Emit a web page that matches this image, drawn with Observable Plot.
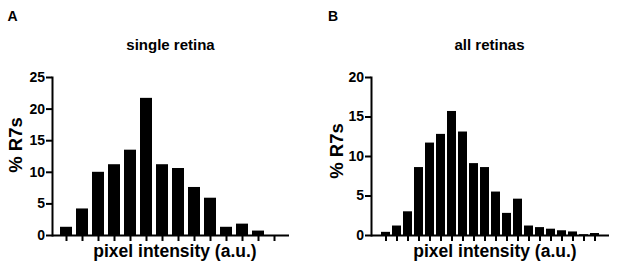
<!DOCTYPE html>
<html><head><meta charset="utf-8">
<script src="https://cdn.jsdelivr.net/npm/d3@7"></script>
<script src="https://cdn.jsdelivr.net/npm/@observablehq/plot@0.6"></script>
<style>
body{margin:0;background:#fff;font-family:Arial,"Liberation Sans",sans-serif;}
#wrap{position:relative;width:617px;height:270px;overflow:hidden;background:#fff}
.panel{position:absolute;top:0}
.lbl{position:absolute;font-weight:bold;color:#000;white-space:nowrap;line-height:1;font-family:Arial,"Liberation Sans",sans-serif}
</style></head><body><div id="wrap"></div>
<script>
// Panel A: single retina
const binsA = [1,2,3,4,5,6,7,8,9,10,11,12,13,14];
const pctA  = [1.3,4.2,10.0,11.2,13.5,21.7,11.2,10.6,7.6,5.9,1.3,1.8,0.7,0];
const yTicksA = [0,5,10,15,20,25];
// Panel B: all retinas
const binsB = [1,2,3,4,5,6,7,8,9,10,11,12,13,14,15,16,17,18,19,20];
const pctB  = [0.4,1.2,3.0,8.6,11.7,12.8,15.7,13.1,9.1,8.6,5.5,2.8,4.6,1.2,1.0,0.8,0.6,0.45,0.1,0.25];
const yTicksB = [0,5,10,15,20];

const titles = ["single retina", "all retinas"];
const letters = ["A", "B"];
const xLabel = "pixel intensity (a.u.)";
const yLabel = "% R7s";

const wrap = document.getElementById("wrap");

function panel(bins, pct, yTicks, cfg) {
  const data = bins.map((b, i) => ({bin: b, pct: pct[i]}));
  const yMax = yTicks[yTicks.length - 1];
  const p = Plot.plot({
    width: cfg.width, height: 270,
    marginLeft: cfg.ml, marginRight: cfg.mr, marginTop: 77, marginBottom: 35,
    style: {fontFamily: "Arial, 'Liberation Sans', sans-serif", fontSize: "14px", fontWeight: "bold", color: "#000", background: "#fff", overflow: "visible"},
    x: {type: "band", domain: bins, paddingInner: cfg.pi, paddingOuter: cfg.pi / 2},
    y: {domain: [0, yMax]},
    marks: [
      Plot.barY(data, {x: "bin", y: "pct", fill: "#000"}),
      Plot.ruleY([0], {strokeWidth: 2}),
      Plot.frame({anchor: "left", strokeWidth: 2}),
      Plot.axisY({ticks: yTicks, tickSize: 6, tickPadding: 1.5, strokeWidth: 2, label: null}),
      Plot.axisX({tickSize: 6, tickFormat: () => "", strokeWidth: 2, label: null})
    ]
  });
  p.classList.add("panel");
  p.style.left = cfg.left + "px";
  wrap.appendChild(p);
}

panel(binsA, pctA, yTicksA, {left: 0, width: 309, ml: 52, mr: 20, pi: 0.24});
panel(binsB, pctB, yTicksB, {left: 309, width: 308, ml: 62, mr: 8, pi: 0.16});

function label(text, opts) {
  const d = document.createElement("div");
  d.className = "lbl";
  d.textContent = text;
  d.style.fontSize = opts.fs + "px";
  d.style.left = opts.x + "px";
  d.style.top = opts.y + "px";
  if (opts.transform) d.style.transform = opts.transform;
  wrap.appendChild(d);
}
const base = (b, fs) => b - 0.8465 * fs;

// panel letters
label(letters[0], {fs: 14, x: 7.5, y: base(21, 14)});
label(letters[1], {fs: 14, x: 328, y: base(21, 14)});
// titles
label(titles[0], {fs: 15, x: 170.5, y: base(50, 15), transform: "translateX(-50%)"});
label(titles[1], {fs: 15, x: 489.5, y: base(50, 15), transform: "translateX(-50%)"});
// x labels
label(xLabel, {fs: 17.5, x: 175, y: base(258, 17.5), transform: "translateX(-50%)"});
label(xLabel, {fs: 17.5, x: 495, y: base(258, 17.5), transform: "translateX(-50%)"});
// y labels
label(yLabel, {fs: 18.5, x: 15.5, y: 145, transform: "translate(-50%,-50%) rotate(-90deg)"});
label(yLabel, {fs: 18.5, x: 336.5, y: 151, transform: "translate(-50%,-50%) rotate(-90deg)"});
</script>
</body></html>
